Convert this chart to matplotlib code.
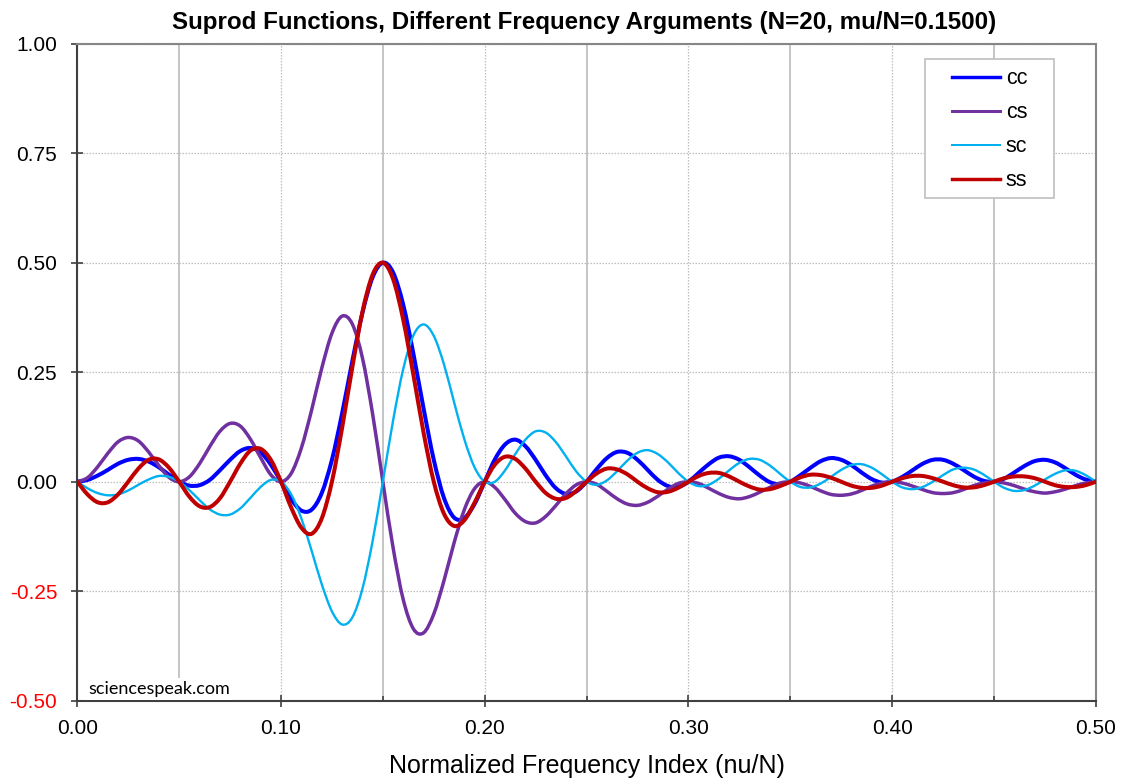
import matplotlib
matplotlib.use('Agg')
import matplotlib.pyplot as plt
import numpy as np
from matplotlib.patches import Rectangle, PathPatch
from matplotlib.path import Path
from matplotlib.lines import Line2D

plt.rcParams['font.family'] = ['Liberation Sans', 'DejaVu Sans']
plt.rcParams['axes.unicode_minus'] = False

# Normalized frequency index nu/N (sampled every 0.005)
x_vals = np.linspace(0.0, 0.5, 101)

cc = [0.000, 0.004, 0.014, 0.027, 0.041, 0.050, 0.052, 0.046, 0.033, 0.016,
      0.000, -0.009, -0.008, 0.004, 0.026, 0.050, 0.070, 0.077, 0.067, 0.039,
      0.000, -0.040, -0.066, -0.064, -0.026, 0.050, 0.156, 0.275, 0.386, 0.467,
      0.500, 0.478, 0.404, 0.292, 0.167, 0.050, -0.037, -0.082, -0.083, -0.051,
      0.000, 0.051, 0.085, 0.096, 0.081, 0.050, 0.014, -0.015, -0.028, -0.022,
      0.000, 0.029, 0.054, 0.068, 0.066, 0.050, 0.027, 0.004, -0.010, -0.012,
      0.000, 0.020, 0.040, 0.055, 0.058, 0.050, 0.033, 0.014, -0.001, -0.006,
      0.000, 0.015, 0.032, 0.047, 0.054, 0.050, 0.038, 0.021, 0.006, -0.002,
      0.000, 0.011, 0.026, 0.041, 0.050, 0.050, 0.041, 0.027, 0.012, 0.002,
      0.000, 0.007, 0.021, 0.036, 0.047, 0.050, 0.044, 0.031, 0.016, 0.005,
      0.000]

cs = [0.000, 0.009, 0.034, 0.065, 0.091, 0.101, 0.093, 0.068, 0.037, 0.010,
      0.000, 0.011, 0.041, 0.080, 0.115, 0.133, 0.127, 0.097, 0.055, 0.016,
      0.000, 0.019, 0.077, 0.163, 0.259, 0.339, 0.378, 0.360, 0.282, 0.154,
      0.000, -0.150, -0.269, -0.336, -0.345, -0.302, -0.226, -0.139, -0.064, -0.016,
      0.000, -0.013, -0.041, -0.072, -0.091, -0.094, -0.079, -0.054, -0.027, -0.007,
      0.000, -0.006, -0.022, -0.039, -0.051, -0.054, -0.047, -0.033, -0.017, -0.004,
      0.000, -0.004, -0.015, -0.027, -0.036, -0.039, -0.034, -0.024, -0.013, -0.003,
      0.000, -0.003, -0.011, -0.021, -0.029, -0.031, -0.028, -0.020, -0.010, -0.003,
      0.000, -0.003, -0.010, -0.018, -0.025, -0.027, -0.025, -0.018, -0.009, -0.003,
      0.000, -0.003, -0.009, -0.017, -0.023, -0.026, -0.023, -0.017, -0.009, -0.003,
      0.000]

sc = [0.000, -0.015, -0.026, -0.031, -0.029, -0.020, -0.007, 0.005, 0.013, 0.011,
      0.000, -0.019, -0.042, -0.063, -0.075, -0.075, -0.061, -0.037, -0.012, 0.004,
      0.000, -0.029, -0.084, -0.157, -0.234, -0.296, -0.326, -0.310, -0.244, -0.135,
      0.000, 0.139, 0.257, 0.334, 0.359, 0.333, 0.268, 0.181, 0.097, 0.033,
      0.000, 0.000, 0.026, 0.063, 0.096, 0.115, 0.112, 0.090, 0.057, 0.023,
      0.000, -0.007, 0.003, 0.024, 0.048, 0.066, 0.072, 0.063, 0.044, 0.020,
      0.000, -0.010, -0.007, 0.007, 0.026, 0.043, 0.052, 0.050, 0.037, 0.018,
      0.000, -0.012, -0.013, -0.004, 0.011, 0.027, 0.038, 0.040, 0.032, 0.017,
      0.000, -0.013, -0.017, -0.012, 0.000, 0.015, 0.028, 0.032, 0.028, 0.016,
      0.000, -0.014, -0.021, -0.019, -0.009, 0.005, 0.018, 0.026, 0.025, 0.015,
      0.000]

ss = [0.000, -0.029, -0.047, -0.047, -0.029, 0.000, 0.030, 0.050, 0.051, 0.032,
      0.000, -0.034, -0.056, -0.058, -0.038, 0.000, 0.041, 0.071, 0.075, 0.050,
      0.000, -0.059, -0.105, -0.119, -0.084, 0.000, 0.123, 0.261, 0.388, 0.473,
      0.500, 0.463, 0.370, 0.244, 0.112, 0.000, -0.073, -0.101, -0.088, -0.048,
      0.000, 0.039, 0.057, 0.052, 0.030, 0.000, -0.026, -0.039, -0.037, -0.021,
      0.000, 0.019, 0.030, 0.028, 0.017, 0.000, -0.015, -0.024, -0.023, -0.014,
      0.000, 0.013, 0.020, 0.020, 0.012, 0.000, -0.011, -0.018, -0.017, -0.010,
      0.000, 0.010, 0.016, 0.015, 0.009, 0.000, -0.009, -0.014, -0.014, -0.009,
      0.000, 0.008, 0.013, 0.013, 0.008, 0.000, -0.008, -0.013, -0.013, -0.008,
      0.000, 0.008, 0.012, 0.012, 0.008, 0.000, -0.008, -0.012, -0.012, -0.008,
      0.000]

series_names = ['cc', 'cs', 'sc', 'ss']
series_colors = ['#0000FF', '#7030A0', '#00B0F0', '#C00000']
series_widths = [2.9, 2.5, 1.7, 2.9]

x_ticks = [0.0, 0.1, 0.2, 0.3, 0.4, 0.5]
x_tick_labels = ['0.00', '0.10', '0.20', '0.30', '0.40', '0.50']
x_minor_ticks = [0.05, 0.15, 0.25, 0.35, 0.45]
y_ticks = [1.0, 0.75, 0.5, 0.25, 0.0, -0.25, -0.5]
y_tick_labels = ['1.00', '0.75', '0.50', '0.25', '0.00', '-0.25', '-0.50']

title = 'Suprod Functions, Different Frequency Arguments (N=20, mu/N=0.1500)'
x_label = 'Normalized Frequency Index (nu/N)'
watermark = 'sciencespeak.com'


def smooth_path(xs, ys):
    """Smoothed line through the data points (cubic Bezier, like a spreadsheet 'smoothed line')."""
    p = np.column_stack([np.asarray(xs, float), np.asarray(ys, float)])
    ext = np.vstack([p[0], p, p[-1]])
    verts = [p[0]]
    codes = [Path.MOVETO]
    for i in range(len(p) - 1):
        p0, p1, p2, p3 = ext[i], ext[i + 1], ext[i + 2], ext[i + 3]
        c1 = p1 + (p2 - p0) / 6.0
        c2 = p2 - (p3 - p1) / 6.0
        verts += [c1, c2, p2]
        codes += [Path.CURVE4] * 3
    return Path(np.array(verts), codes)


W, H = 1124, 780
fig = plt.figure(figsize=(W / 100, H / 100), dpi=100)
ax = fig.add_axes([77.3 / W, 1 - 700.7 / H, (1095.8 - 77.3) / W, (700.7 - 43.7) / H])

handles = []
for name, vals, col, lw in zip(series_names, [cc, cs, sc, ss], series_colors, series_widths):
    patch = PathPatch(smooth_path(x_vals, vals), facecolor='none', edgecolor=col, lw=lw,
                      joinstyle='round', capstyle='round', zorder=3)
    ax.add_patch(patch)
    handles.append(Line2D([], [], color=col, lw=lw * 0.85, label=name))

ax.set_xlim(0, 0.5)
ax.set_ylim(-0.5, 1.0)
ax.set_xticks(x_ticks)
ax.set_xticklabels(x_tick_labels, fontsize=15)
ax.set_xticks(x_minor_ticks, minor=True)
ax.set_yticks(y_ticks)
ax.set_yticklabels(y_tick_labels, fontsize=15)
for lab, txt in zip(ax.get_yticklabels(), y_tick_labels):
    lab.set_color('#FF0000' if txt.startswith('-') else 'black')

ax.set_axisbelow(True)
ax.grid(which='major', axis='both', linestyle=(0, (1.2, 1.2)), color='#bfbfbf', lw=0.9)
ax.grid(which='minor', axis='x', linestyle='-', color='#c0c0c0', lw=1.3)

ax.tick_params(axis='both', which='major', direction='inout', length=8, width=1.2,
               color='#404040')
ax.tick_params(axis='x', which='major', pad=9.5)
ax.tick_params(axis='y', which='major', pad=10.5)
ax.tick_params(axis='x', which='minor', direction='in', length=3.5, width=1.2,
               color='#404040')

for s in ['left', 'bottom']:
    ax.spines[s].set_color('#404040')
    ax.spines[s].set_linewidth(1.5)
for s in ['top', 'right']:
    ax.spines[s].set_color('#868686')
    ax.spines[s].set_linewidth(1.5)

ax.set_xlabel(x_label, fontsize=18, labelpad=11)

fig.text(583.7 / W, 1 - 22 / H, title, ha='center', va='center', fontsize=17.4,
         fontweight='bold')

# legend box
rect = Rectangle((925 / W, 1 - 198 / H), 129 / W, 138.7 / H, transform=fig.transFigure,
                 facecolor='white', edgecolor='#bfbfbf', lw=1.2, zorder=5, clip_on=False)
ax.add_patch(rect)
leg = ax.legend(handles=handles, loc='upper left', bbox_to_anchor=(952 / W, 1 - 68.5 / H),
                bbox_transform=fig.transFigure, frameon=False, fontsize=15.5,
                handlelength=2.25, handletextpad=0.25, labelspacing=0.6,
                borderpad=0, borderaxespad=0)
leg.set_zorder(6)

fig.text(88 / W, 1 - 694 / H, watermark, fontsize=13, family=['Lato', 'DejaVu Sans'],
         ha='left', va='baseline',
         bbox=dict(facecolor='white', edgecolor='none', pad=2))

fig.savefig('out.png', dpi=100)
